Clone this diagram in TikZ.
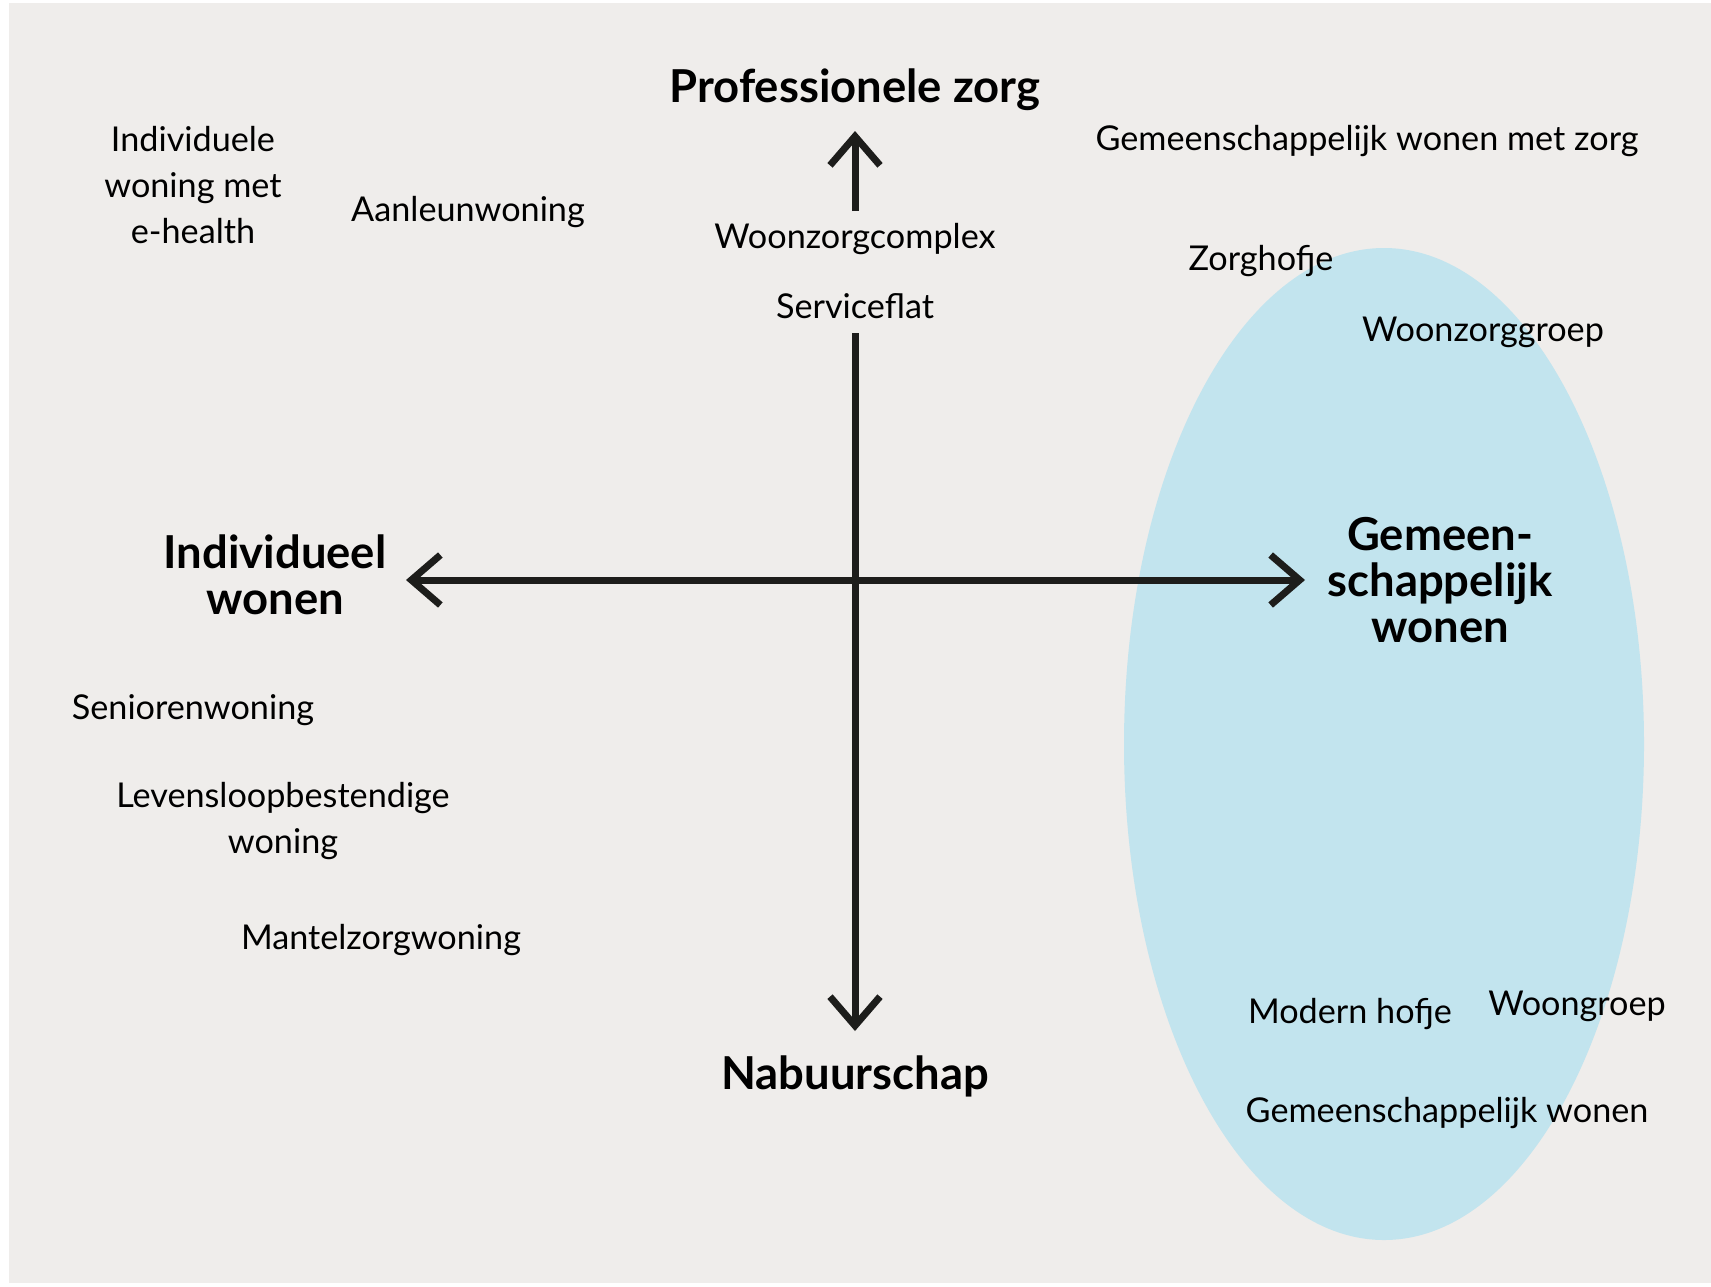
\documentclass[tikz,border=0pt]{standalone}
\usepackage{fontspec}
\setmainfont{Lato}
\usetikzlibrary{arrows.meta}
\definecolor{bggrey}{RGB}{239,237,235}
\definecolor{ovalblue}{RGB}{194,228,238}
\definecolor{axisblack}{RGB}{29,29,27}
\tikzset{
  lbl/.style={inner sep=0pt, text=black, align=center, font=\fontsize{17.1}{23}\selectfont},
  head/.style={inner sep=0pt, text=black, align=center, font=\fontsize{22.7}{23}\selectfont\bfseries},
  axis/.style={draw=axisblack, line width=3.5pt, line cap=butt},
  chev/.style={-{Straight Barb[length=14.5pt,width=25pt,line cap=butt,line join=miter]}},
  chevboth/.style={{Straight Barb[length=14.5pt,width=25pt,line cap=butt,line join=miter]}-{Straight Barb[length=14.5pt,width=25pt,line cap=butt,line join=miter]}}
}
\begin{document}
\begin{tikzpicture}[x=0.5pt,y=-0.5pt]
\useasboundingbox (0,0) rectangle (1711,1286);
\fill[white] (0,0) rectangle (1711,1286);
\fill[bggrey] (9,3) rectangle (1711,1283);
\fill[ovalblue] (1384,744) ellipse [x radius=260, y radius=496];

% axis end points
\coordinate (ctop) at (855,131);
\coordinate (cupper) at (855,211);
\coordinate (clower) at (855,333);
\coordinate (cbottom) at (855,1031);
\coordinate (cleft) at (406,580);
\coordinate (cright) at (1305,580);

\draw[axis,chev] (cupper) -- (ctop);
\draw[axis,chev] (clower) -- (cbottom);
\draw[axis,chevboth] (cleft) -- (cright);

% headings
\node[head] (prof) at (855,90) {Professionele zorg};
\node[head] (nabuur) at (855,1076) {Nabuurschap};
\node[head] (indiv) at (275,575) {Individueel\\wonen};
\node[head] (gemeen) at (1440,580) {Gemeen-\\schappelijk\\wonen};

% labels
\node[lbl] (woonzorgcomplex) at (855,239) {Woonzorgcomplex};
\node[lbl] (serviceflat) at (855,306) {Serviceflat};
\node[lbl] (ehealth) at (193,185) {Individuele\\woning met\\e-health};
\node[lbl] (aanleun) at (468,212) {Aanleunwoning};
\node[lbl] (gemzorg) at (1367,141) {Gemeenschappelijk wonen met zorg};
\node[lbl] (zorghofje) at (1261,261) {Zorghofje};
\node[lbl] (woonzorggroep) at (1483,332) {Woonzorggroep};
\node[lbl] (senioren) at (193,710) {Seniorenwoning};
\node[lbl] (levensloop) at (283,821) {Levensloopbestendige\\woning};
\node[lbl] (mantelzorg) at (381,940) {Mantelzorgwoning};
\node[lbl] (modernhofje) at (1350,1014) {Modern hofje};
\node[lbl] (woongroep) at (1577,1006) {Woongroep};
\node[lbl] (gemwonen) at (1447,1113) {Gemeenschappelijk wonen};
\end{tikzpicture}
\end{document}
